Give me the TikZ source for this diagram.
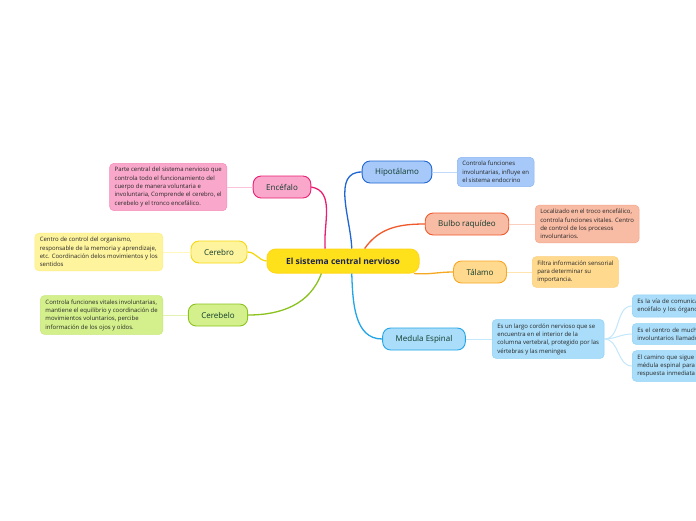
\documentclass[tikz,border=0pt]{standalone}
\usepackage{fontspec}
\setmainfont{Open Sans}
\usetikzlibrary{positioning}

\definecolor{amarillo}{HTML}{FFE11B}
\definecolor{tinta}{HTML}{1B2350}
\definecolor{verdeosc}{HTML}{0F3B2C}
\definecolor{rosa}{HTML}{E91E73}
\definecolor{rosaf}{HTML}{F9A8CB}
\definecolor{amar}{HTML}{F5D80E}
\definecolor{amarf}{HTML}{FFF49E}
\definecolor{verde}{HTML}{8CC21E}
\definecolor{verdef}{HTML}{D4F08C}
\definecolor{azul}{HTML}{1F66D2}
\definecolor{azulf}{HTML}{A6C9F9}
\definecolor{rojo}{HTML}{F0592B}
\definecolor{rojof}{HTML}{F8BBA4}
\definecolor{naranja}{HTML}{F7A823}
\definecolor{naranjaf}{HTML}{FFD98E}
\definecolor{celeste}{HTML}{22A5E8}
\definecolor{celestef}{HTML}{A9DDF9}

\begin{document}
\begin{tikzpicture}[x=1pt,y=-1pt,
    central/.style={draw=amarillo!90!orange,fill=amarillo,rounded corners=9pt,line width=1pt,
      minimum width=152pt,minimum height=24pt,font=\fontsize{8.5}{10}\selectfont\bfseries,text=tinta},
    tema/.style={draw=#1,fill=#1f,rounded corners=8pt,line width=0.9pt,
      minimum height=22pt,inner xsep=13pt,font=\fontsize{8}{9.5}\selectfont,text=verdeosc},
    nota/.style={draw=#1f!80!#1,fill=#1f,rounded corners=4pt,line width=0.5pt,
      align=left,anchor=west,inner xsep=5pt,inner ysep=4pt,font=\fontsize{6}{8.3}\selectfont,text=black!85},
    rama/.style={draw=#1,line width=1.3pt},
    enlace/.style={draw=#1f!70!white,line width=1pt}]

  \useasboundingbox (0,0) rectangle (696,520);
  \clip (0,0) rectangle (696,520);
  \fill[white] (0,0) rectangle (696,520);

  % nodo central
  \node[central] (sistema) at (343,261) {El sistema central nervioso};

  % temas de la izquierda
  \node[tema=rosa] (encefalo) at (282,187) {Encéfalo};
  \node[tema=amar] (cerebro) at (219,252) {Cerebro};
  \node[tema=verde] (cerebelo) at (218,315) {Cerebelo};

  % temas de la derecha
  \node[tema=azul] (hipotalamo) at (397,172) {Hipotálamo};
  \node[tema=rojo] (bulbo) at (467,224) {Bulbo raquídeo};
  \node[tema=naranja] (talamo) at (480,272) {Tálamo};
  \node[tema=celeste] (medula) at (424,339) {Medula Espinal};

  % notas
  \node[nota=rosa,anchor=east] (encnota) at (227,187)
    {Parte central del sistema nervioso que\\controla todo el funcionamiento del\\cuerpo de manera voluntaria e\\involuntaria, Comprende el cerebro, el\\cerebelo y el tronco encefálico.};
  \node[nota=amar,anchor=east] (cernota) at (163,252)
    {Centro de control del organismo,\\responsable de la memoria y aprendizaje,\\etc. Coordinación delos movimientos y los\\sentidos};
  \node[nota=verde,anchor=east] (cbnota) at (163,315)
    {Controla funciones vitales involuntarias,\\mantiene el equilibrio y coordinación de\\movimientos voluntarios, percibe\\información de los ojos y oídos.};
  \node[nota=azul] (hipnota) at (457,172)
    {Controla funciones\\involuntarias, influye en\\el sistema endocrino};
  \node[nota=rojo] (bulnota) at (535,224)
    {Localizado en el troco encefálico,\\controla funciones vitales. Centro\\de control de los procesos\\involuntarios.};
  \node[nota=naranja] (talnota) at (532,272)
    {Filtra información sensorial\\para determinar su\\importancia.};
  \node[nota=celeste] (mednota) at (492,339)
    {Es un largo cordón nervioso que se\\encuentra en el interior de la\\columna vertebral, protegido por las\\vértebras y las meninges};

  % notas de la medula (cortadas por el borde)
  \node[nota=celeste,text width=100pt] (via) at (632,306)
    {Es la vía de comunica\\encéfalo y los órgano};
  \node[nota=celeste,text width=100pt] (centro) at (632,334)
    {Es el centro de mucho\\involuntarios llamado};
  \node[nota=celeste,text width=100pt] (camino) at (632,366)
    {El camino que sigue l\\médula espinal para c\\respuesta inmediata};

  % ramas principales
  \draw[rama=rosa] (sistema.145) to[out=95,in=-10] (encefalo.east);
  \draw[rama=amar] (sistema.west) to[out=175,in=0] (cerebro.east);
  \draw[rama=verde] (sistema.-150) to[out=-110,in=0] (cerebelo.east);
  \draw[rama=azul] (sistema.55) to[out=92,in=180] (hipotalamo.west);
  \draw[rama=rojo] (sistema.30) to[out=55,in=180] (bulbo.west);
  \draw[rama=naranja] (sistema.-10) to[out=-5,in=180] (talamo.west);
  \draw[rama=celeste] (sistema.-55) to[out=-88,in=180] (medula.west);

  % enlaces a las notas
  \draw[enlace=rosa] (encefalo.west) -- (encnota.east);
  \draw[enlace=amar] (cerebro.west) -- (cernota.east);
  \draw[enlace=verde] (cerebelo.west) -- (cbnota.east);
  \draw[enlace=azul] (hipotalamo.east) -- (hipnota.west);
  \draw[enlace=rojo] (bulbo.east) -- (bulnota.west);
  \draw[enlace=naranja] (talamo.east) -- (talnota.west);
  \draw[enlace=celeste] (medula.east) -- (mednota.west);
  \foreach \n in {via,centro,camino}{
    \draw[enlace=celeste] (mednota.east) to[out=0,in=180] (\n.west);
  }
\end{tikzpicture}
\end{document}
